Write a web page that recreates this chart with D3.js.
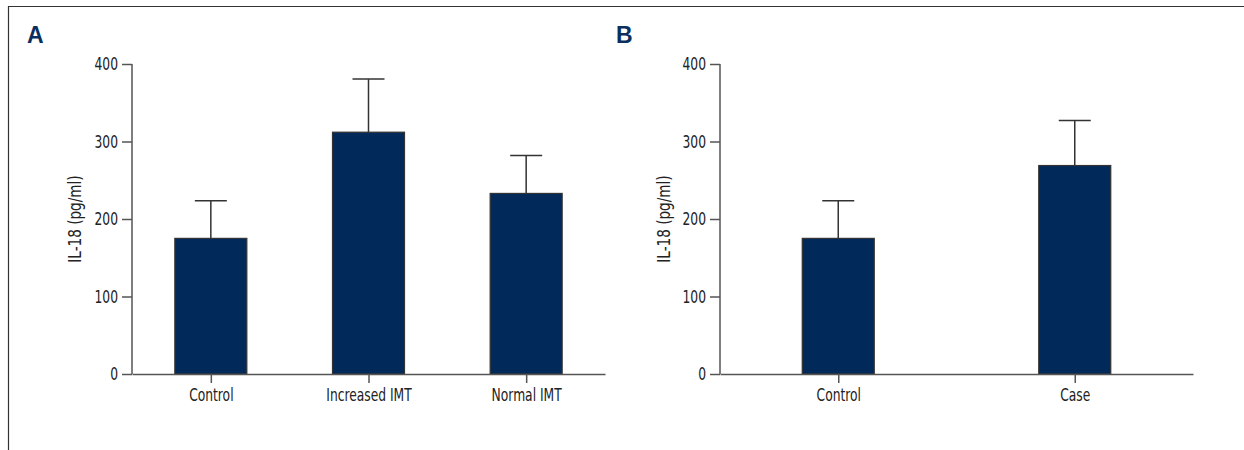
<!DOCTYPE html>
<html>
<head>
<meta charset="utf-8">
<script src="https://cdn.jsdelivr.net/npm/d3@7"></script>
<style>
	body { margin: 0; background: #fff; }
	svg { display: block; }
	.tick text, .lbl { font-family: "Liberation Sans Narrow", "DejaVu Sans Condensed", sans-serif; fill: #222; }
</style>
</head>
<body>
<svg id="chart" width="1244" height="450"></svg>
<script>
	// values
	var aGroupsA = ["Control", "Increased IMT", "Normal IMT"];
	var aMeanA = [175, 312, 233];
	var aSdA = [48.5, 68.5, 49];

	var aGroupsB = ["Control", "Case"];
	var aMeanB = [175, 269];
	var aSdB = [48.5, 58];

	var aYTicks = [0, 100, 200, 300, 400];
	var sYLabel = "IL-18 (pg/ml)";

	var sBarColor = "#012a5a",
		sAxisColor = "#555",
		iBarWidth = 72,
		fNarrow = 0.76; // squeeze text, the original uses a condensed face

	var svg = d3.select("#chart");

	// frame
	svg.append("path")
		.attr("d", "M8.5,450V6.5H1244")
		.attr("fill", "none")
		.attr("stroke", "#333")
		.attr("stroke-width", 1.2);

	var y = d3.scaleLinear().domain([0, 400]).range([374, 64]);

	function drawPanel(sLetter, iLeft, iRight, iLetterX, iLabelX, aGroups, aMean, aSd) {
		var g = svg.append("g");
		var x = d3.scalePoint().domain(aGroups).range([iLeft, iRight]).padding(0.5);

		g.append("text")
			.attr("x", iLetterX)
			.attr("y", 43)
			.attr("font-family", "Liberation Sans, Arial, sans-serif")
			.attr("font-weight", "bold")
			.attr("font-size", 23)
			.attr("fill", "#0b2f5e")
			.text(sLetter);

		var data = aGroups.map(function (d, i) {
			return { k: d, v: aMean[i], e: aSd[i] };
		});

		// error bars (upper only)
		var selErr = g.selectAll("g.err").data(data).enter().append("g").attr("class", "err")
			.attr("stroke", "#333").attr("stroke-width", 1.5);
		selErr.append("line")
			.attr("x1", function (d) { return x(d.k); })
			.attr("x2", function (d) { return x(d.k); })
			.attr("y1", function (d) { return y(d.v); })
			.attr("y2", function (d) { return y(d.v + d.e); });
		selErr.append("line")
			.attr("x1", function (d) { return x(d.k) - 16; })
			.attr("x2", function (d) { return x(d.k) + 16; })
			.attr("y1", function (d) { return y(d.v + d.e); })
			.attr("y2", function (d) { return y(d.v + d.e); });

		g.selectAll("rect").data(data).enter().append("rect")
			.attr("x", function (d) { return x(d.k) - iBarWidth / 2; })
			.attr("width", iBarWidth)
			.attr("y", function (d) { return y(d.v); })
			.attr("height", function (d) { return y(0) - y(d.v); })
			.attr("fill", sBarColor)
			.attr("stroke", "#333")
			.attr("stroke-width", 1.2);

		var gy = g.append("g")
			.attr("transform", "translate(" + iLeft + ",0)")
			.call(d3.axisLeft(y).tickValues(aYTicks).tickSize(10).tickPadding(4).tickSizeOuter(0));
		var gx = g.append("g")
			.attr("transform", "translate(0," + y(0) + ")")
			.call(d3.axisBottom(x).tickSize(9).tickPadding(5).tickSizeOuter(0));

		[gy, gx].forEach(function (sel) {
			sel.select(".domain").attr("stroke", sAxisColor).attr("stroke-width", 1.5);
			sel.selectAll(".tick line").attr("stroke", sAxisColor).attr("stroke-width", 1.5);
			sel.selectAll(".tick text").attr("font-size", 18).attr("fill", "#222")
				.attr("transform", "scale(" + fNarrow + ",1)");
		});
		gy.selectAll(".tick text").attr("x", -14 / fNarrow);
		gy.select(".domain").attr("d", "M0," + y(400) + "V" + y(0));

		g.append("text")
			.attr("class", "lbl")
			.attr("transform", "translate(" + iLabelX + "," + y(200) + ") rotate(-90) scale(0.84,1)")
			.attr("text-anchor", "middle")
			.attr("font-size", 18)
			.text(sYLabel);
	}

	drawPanel("A", 132, 605, 27, 81, aGroupsA, aMeanA, aSdA);
	drawPanel("B", 720, 1193, 616, 670, aGroupsB, aMeanB, aSdB);
</script>
</body>
</html>
